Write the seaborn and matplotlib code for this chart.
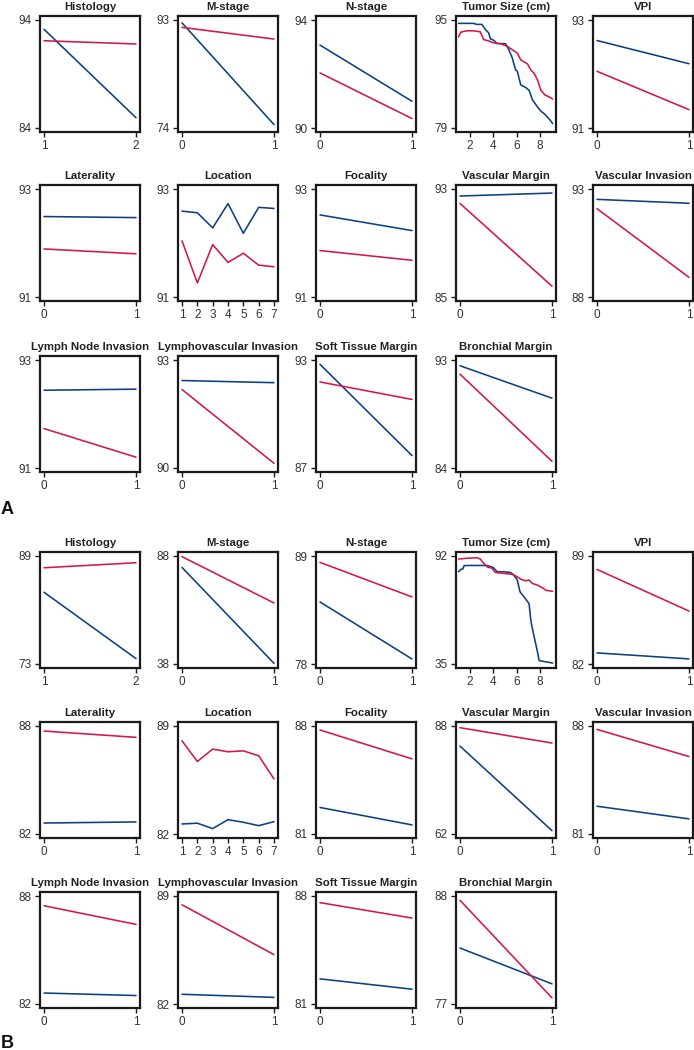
import matplotlib
matplotlib.use('Agg')
import matplotlib.pyplot as plt
import pandas as pd
import seaborn as sns

sns.set_style('ticks')
plt.rcParams['font.family'] = ['Liberation Sans', 'DejaVu Sans']

BLUE = '#0b4181'
RED = '#d5164a'

titles = ['Histology', 'M-stage', 'N-stage', 'Tumor Size (cm)', 'VPI',
          'Laterality', 'Location', 'Focality', 'Vascular Margin', 'Vascular Invasion',
          'Lymph Node Invasion', 'Lymphovascular Invasion', 'Soft Tissue Margin', 'Bronchial Margin']

x_binary = [0, 1]
x_histology = [1, 2]
x_location = [1, 2, 3, 4, 5, 6, 7]
x_tumor_ticks = [2, 4, 6, 8]

# panel A: y tick range (bottom, top) and the two curves
a_yticks = {'Histology': [84, 94], 'M-stage': [74, 93], 'N-stage': [90, 94],
            'Tumor Size (cm)': [79, 95], 'VPI': [91, 93], 'Laterality': [91, 93],
            'Location': [91, 93], 'Focality': [91, 93], 'Vascular Margin': [85, 93],
            'Vascular Invasion': [88, 93], 'Lymph Node Invasion': [91, 93],
            'Lymphovascular Invasion': [90, 93], 'Soft Tissue Margin': [87, 93],
            'Bronchial Margin': [84, 93]}
a_blue = {'Histology': [93.14, 84.95], 'M-stage': [92.5, 74.6], 'N-stage': [93.07, 90.99],
          'VPI': [92.62, 92.19], 'Laterality': [92.49, 92.47],
          'Location': [92.59, 92.56, 92.28, 92.73, 92.18, 92.66, 92.64],
          'Focality': [92.52, 92.23], 'Vascular Margin': [92.48, 92.7],
          'Vascular Invasion': [92.52, 92.34], 'Lymph Node Invasion': [92.44, 92.46],
          'Lymphovascular Invasion': [92.43, 92.37], 'Soft Tissue Margin': [92.76, 87.69],
          'Bronchial Margin': [92.52, 89.82]}
a_red = {'Histology': [92.08, 91.78], 'M-stage': [91.7, 89.65], 'N-stage': [92.04, 90.35],
         'VPI': [92.05, 91.34], 'Laterality': [91.89, 91.8],
         'Location': [92.04, 91.26, 91.97, 91.64, 91.81, 91.59, 91.56],
         'Focality': [91.86, 91.68], 'Vascular Margin': [91.93, 85.8],
         'Vascular Invasion': [92.09, 88.91], 'Lymph Node Invasion': [91.73, 91.2],
         'Lymphovascular Invasion': [92.18, 90.13], 'Soft Tissue Margin': [91.78, 90.81],
         'Bronchial Margin': [91.82, 84.56]}
a_tumor_blue_x = [1.0, 2.29, 2.58, 3.01, 3.30, 3.59, 3.74, 4.03, 4.32, 5.04, 5.33, 5.62,
                  5.91, 6.06, 6.35, 6.78, 7.07, 7.36, 7.80, 8.09, 8.38, 8.67, 8.96, 9.10]
a_tumor_blue_y = [94.5, 94.5, 94.35, 94.35, 93.6, 93.1, 92.2, 92.0, 91.5, 91.5, 90.6, 89.4,
                  87.6, 87.4, 85.4, 85.0, 84.6, 83.2, 82.1, 81.5, 81.1, 80.6, 80.0, 79.65]
a_tumor_red_x = [1.0, 1.19, 1.71, 2.29, 2.87, 3.16, 3.59, 4.03, 4.61, 5.19, 5.62, 6.06,
                 6.35, 6.93, 7.22, 7.51, 7.80, 8.09, 8.43, 8.81, 9.10]
a_tumor_red_y = [92.5, 93.2, 93.4, 93.4, 93.25, 92.1, 91.9, 91.6, 91.5, 91.1, 90.6, 90.1,
                 89.1, 88.5, 87.6, 87.1, 86.1, 84.6, 83.9, 83.6, 83.3]

# panel B
b_yticks = {'Histology': [73, 89], 'M-stage': [38, 88], 'N-stage': [78, 89],
            'Tumor Size (cm)': [35, 92], 'VPI': [82, 89], 'Laterality': [82, 88],
            'Location': [82, 89], 'Focality': [81, 88], 'Vascular Margin': [62, 88],
            'Vascular Invasion': [81, 88], 'Lymph Node Invasion': [82, 88],
            'Lymphovascular Invasion': [82, 89], 'Soft Tissue Margin': [81, 88],
            'Bronchial Margin': [77, 88]}
b_blue = {'Histology': [83.63, 73.8], 'M-stage': [82.7, 38.3], 'N-stage': [84.32, 78.51],
          'VPI': [82.72, 82.33], 'Laterality': [82.61, 82.67],
          'Location': [82.65, 82.7, 82.35, 82.93, 82.76, 82.54, 82.8],
          'Focality': [82.72, 81.59], 'Vascular Margin': [83.16, 62.81],
          'Vascular Invasion': [82.8, 81.98], 'Lymph Node Invasion': [82.61, 82.47],
          'Lymphovascular Invasion': [82.63, 82.43], 'Soft Tissue Margin': [82.63, 81.96],
          'Bronchial Margin': [82.7, 79.05]}
b_red = {'Histology': [87.26, 88.0], 'M-stage': [87.7, 66.26], 'N-stage': [88.35, 84.83],
         'VPI': [88.13, 85.43], 'Laterality': [87.72, 87.37],
         'Location': [88.04, 86.7, 87.5, 87.33, 87.39, 87.07, 85.57],
         'Focality': [87.74, 85.87], 'Vascular Margin': [87.6, 83.9],
         'Vascular Invasion': [87.78, 86.02], 'Lymph Node Invasion': [87.46, 86.42],
         'Lymphovascular Invasion': [88.43, 85.2], 'Soft Tissue Margin': [87.57, 86.57],
         'Bronchial Margin': [87.56, 77.62]}
b_tumor_blue_x = [0.99, 1.19, 1.36, 1.48, 1.71, 3.45, 3.97, 4.32, 4.90, 5.48, 5.77, 6.06,
                  6.29, 6.64, 7.07, 7.22, 7.36, 7.80, 7.94, 9.10]
b_tumor_blue_y = [83.7, 84.9, 85.1, 86.9, 87.0, 87.0, 86.0, 83.7, 83.7, 83.3, 81.9, 79.3,
                  73.1, 70.4, 66.9, 58.1, 53.6, 41.2, 36.8, 35.5]
b_tumor_red_x = [0.99, 1.71, 2.58, 2.87, 3.10, 3.45, 3.88, 4.17, 4.90, 5.62, 6.06, 6.35,
                 6.78, 7.07, 7.36, 7.80, 8.23, 8.52, 8.81, 9.10]
b_tumor_red_y = [90.4, 90.8, 91.1, 90.4, 88.6, 86.3, 85.5, 83.3, 82.8, 82.3, 81.0, 79.8,
                 78.9, 79.3, 77.5, 76.6, 75.2, 73.9, 73.6, 73.4]

W, H = 694, 1050
col_left = [40, 178, 316, 456, 593]
a_row_top = [16, 185, 356]
b_row_top = [552, 722, 892]
AX_W, AX_H = 100, 116

fig = plt.figure(figsize=(W / 100, H / 100), dpi=100)


def x_for(title):
    if title == 'Histology':
        return x_histology
    if title == 'Location':
        return x_location
    return x_binary


def draw_panel(row_tops, yticks, blue, red, tumor):
    for i, title in enumerate(titles):
        r, c = divmod(i, 5)
        left, top = col_left[c], row_tops[r]
        ax = fig.add_axes([left / W, 1 - (top + AX_H) / H, AX_W / W, AX_H / H])
        if title == 'Tumor Size (cm)':
            bx, by, rx, ry = tumor
            xt = x_tumor_ticks
            xlim = (0.78, 9.39)
        else:
            bx = rx = x_for(title)
            by, ry = blue[title], red[title]
            xt = bx
            pad = (xt[-1] - xt[0]) * 4 / 92
            xlim = (xt[0] - pad, xt[-1] + pad)
        df = pd.concat([
            pd.DataFrame({'x': bx, 'y': by, 'group': 'blue'}),
            pd.DataFrame({'x': rx, 'y': ry, 'group': 'red'}),
        ])
        sns.lineplot(data=df, x='x', y='y', hue='group', palette={'blue': BLUE, 'red': RED},
                     estimator=None, legend=False, linewidth=1.15, ax=ax)
        lo, hi = yticks[title]
        ypad = (hi - lo) * 4 / 108
        ax.set_ylim(lo - ypad, hi + ypad)
        ax.set_yticks([lo, hi])
        ax.set_xlim(*xlim)
        ax.set_xticks(xt)
        ax.set_xlabel('')
        ax.set_ylabel('')
        ax.set_title(title, fontsize=8.2, fontweight='bold', pad=4, color='#222222')
        for sp in ax.spines.values():
            sp.set_visible(True)
            sp.set_linewidth(1.6)
            sp.set_color('#1a1a1a')
        ax.tick_params(direction='out', length=3.5, width=1, labelsize=8.5, pad=2.5,
                       colors='#1a1a1a', labelcolor='#333333')


draw_panel(a_row_top, a_yticks, a_blue, a_red,
           (a_tumor_blue_x, a_tumor_blue_y, a_tumor_red_x, a_tumor_red_y))
draw_panel(b_row_top, b_yticks, b_blue, b_red,
           (b_tumor_blue_x, b_tumor_blue_y, b_tumor_red_x, b_tumor_red_y))

fig.text(1 / W, 1 - 514 / H, 'A', fontsize=13, fontweight='bold', color='#111111')
fig.text(1 / W, 1 - 1050 / H + 0.002, 'B', fontsize=13, fontweight='bold', color='#111111')

fig.savefig('out.png', dpi=100)
